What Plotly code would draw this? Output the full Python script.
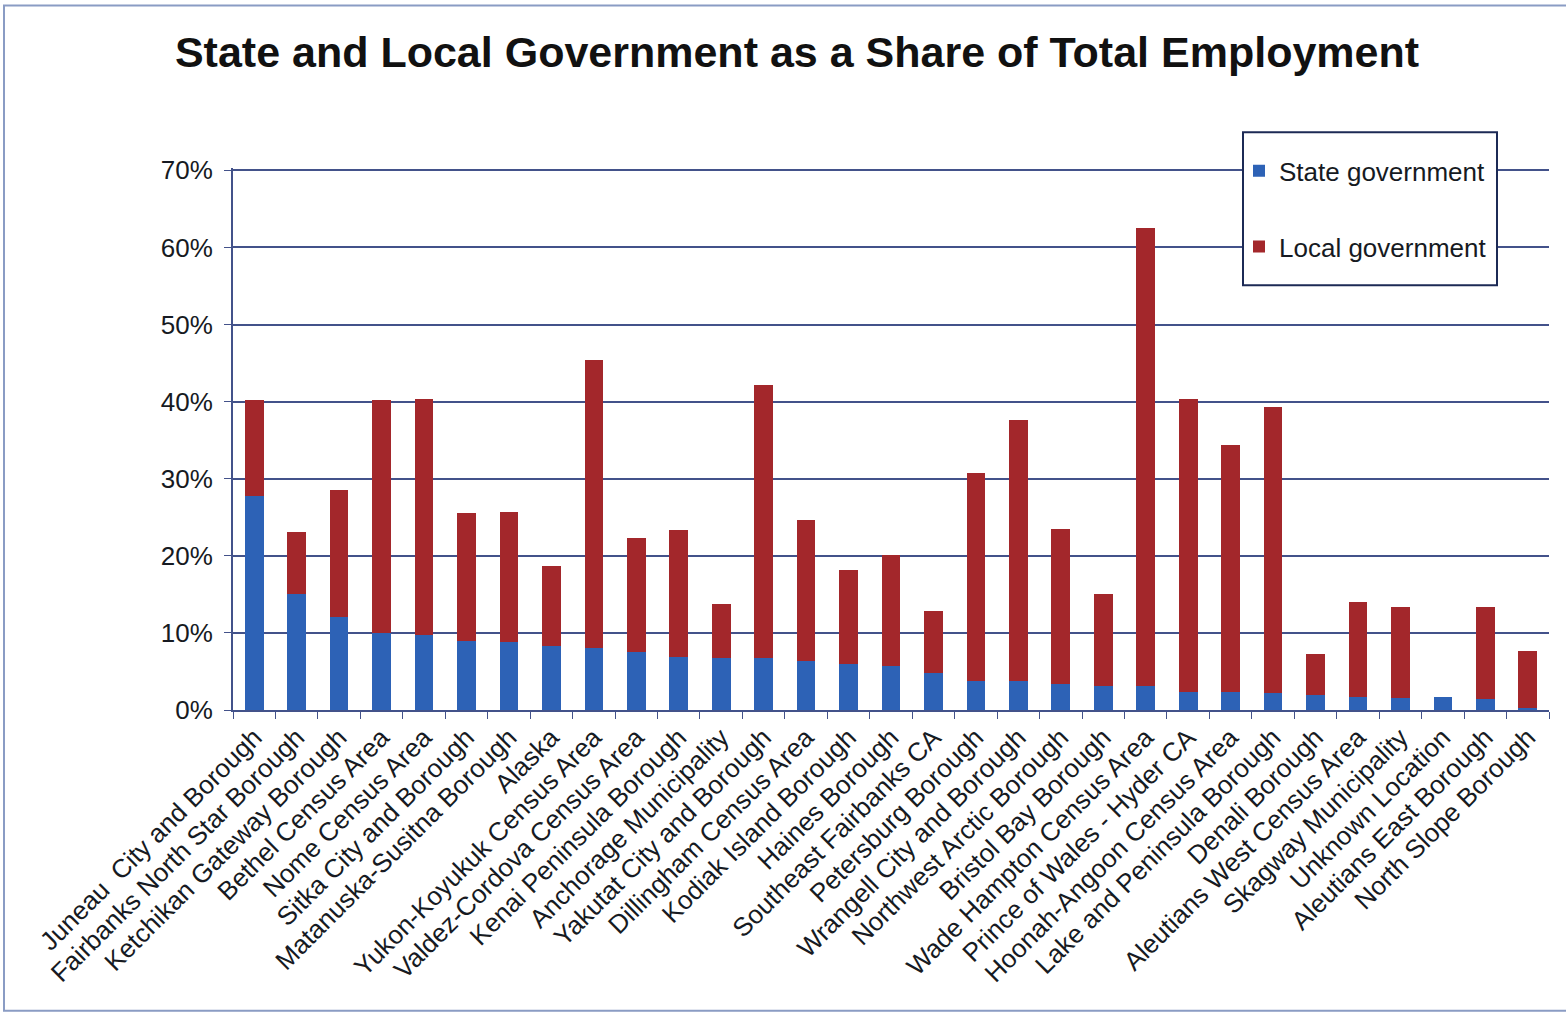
import plotly.graph_objects as go

# Census areas / boroughs, in chart order
areas = [
    "Juneau  City and Borough", "Fairbanks North Star Borough", "Ketchikan Gateway Borough",
    "Bethel Census Area", "Nome Census Area", "Sitka City and Borough",
    "Matanuska-Susitna Borough", "Alaska", "Yukon-Koyukuk Census Area",
    "Valdez-Cordova Census Area", "Kenai Peninsula Borough", "Anchorage Municipality",
    "Yakutat City and Borough", "Dillingham Census Area", "Kodiak Island Borough",
    "Haines Borough", "Southeast Fairbanks CA", "Petersburg Borough",
    "Wrangell City and Borough", "Northwest Arctic Borough", "Bristol Bay Borough",
    "Wade Hampton Census Area", "Prince of Wales - Hyder CA", "Hoonah-Angoon Census Area",
    "Lake and Peninsula Borough", "Denali Borough", "Aleutians West Census Area",
    "Skagway Municipality", "Unknown Location", "Aleutians East Borough",
    "North Slope Borough",
]

# Share of total employment (fractions)
state_share = [
    0.278, 0.150, 0.120, 0.100, 0.097, 0.090, 0.088, 0.083, 0.081, 0.075,
    0.069, 0.068, 0.068, 0.064, 0.060, 0.057, 0.048, 0.038, 0.038, 0.034,
    0.031, 0.031, 0.024, 0.024, 0.022, 0.020, 0.017, 0.015, 0.017, 0.014,
    0.002,
]
total_share = [
    0.402, 0.231, 0.286, 0.402, 0.404, 0.255, 0.257, 0.187, 0.454, 0.223,
    0.233, 0.137, 0.421, 0.247, 0.182, 0.201, 0.128, 0.308, 0.376, 0.235,
    0.151, 0.625, 0.404, 0.344, 0.393, 0.073, 0.140, 0.134, 0.017, 0.134,
    0.076,
]
local_share = [round(t - s, 3) for t, s in zip(total_share, state_share)]

BLUE = "#2D62B6"
RED = "#A3272B"
GRID = "#43528A"
TEXT = "#161a22"
FONT = "Liberation Sans, Arial, sans-serif"

fig = go.Figure()
fig.add_trace(go.Bar(x=areas, y=state_share, name="State government",
                     marker=dict(color=BLUE, line=dict(width=0)), legendgroup="s"))
fig.add_trace(go.Bar(x=areas, y=local_share, name="Local government",
                     marker=dict(color=RED, line=dict(width=0)), legendgroup="l"))

# y range runs a hair past 70% so the top gridline is kept
Y_TOP = 0.703
# plot area: x 233..1549 px, 0% at y=710 px, 70% at y=170 px
px_per_unit = 540 / 0.7
L, R, B = 233, 1566 - 1549, 1014 - 710
T = 710 - Y_TOP * px_per_unit
PW, PH = 1566 - L - R, 1014 - T - B

def px_x(px):
    return (px - L) / PW

def px_y(py):
    return (1014 - B - py) / PH

fig.update_layout(
    width=1566, height=1014,
    margin=dict(l=L, r=R, t=T, b=B),
    paper_bgcolor="white", plot_bgcolor="white",
    barmode="stack", bargap=0.56,
    font=dict(family=FONT, color=TEXT, size=26),
    title=dict(
        text="<b>State and Local Government as a Share of Total Employment</b>",
        x=797 / 1566, xanchor="center", xref="container",
        y=1 - 52 / 1014, yanchor="middle", yref="container",
        font=dict(family=FONT, size=43, color="#111111"),
    ),
    legend=dict(
        x=px_x(1239), y=px_y(147), xanchor="left", yanchor="top",
        bgcolor="rgba(0,0,0,0)", borderwidth=0,
        font=dict(family=FONT, size=26, color=TEXT),
        traceorder="grouped", tracegroupgap=39, itemwidth=30,
    ),
    xaxis=dict(
        type="category", tickangle=-45, showgrid=False,
        ticks="outside", tickson="boundaries", ticklen=7, tickcolor=GRID,
        showline=True, linecolor=GRID, linewidth=2,
        tickfont=dict(family=FONT, size=26, color=TEXT),
    ),
    yaxis=dict(
        range=[0, Y_TOP], dtick=0.1, tickformat=".0%",
        showgrid=True, gridcolor=GRID, gridwidth=1.5,
        showline=True, linecolor=GRID, linewidth=2,
        ticks="outside", ticklen=7, tickcolor=GRID,
        ticklabelstandoff=6,
        zeroline=False,
        tickfont=dict(family=FONT, size=26, color=TEXT),
    ),
    shapes=[
        # outer frame of the chart
        dict(type="rect", xref="paper", yref="paper",
             x0=px_x(4), x1=px_x(1580), y0=px_y(1011), y1=px_y(5),
             line=dict(color="#8A9CC4", width=2), layer="below"),
        # legend box
        dict(type="rect", xref="paper", yref="paper",
             x0=px_x(1243), x1=px_x(1497), y0=px_y(285), y1=px_y(132),
             fillcolor="white", line=dict(color="#1C2A55", width=2), layer="above"),
    ],
)

fig.write_html("out.html")
